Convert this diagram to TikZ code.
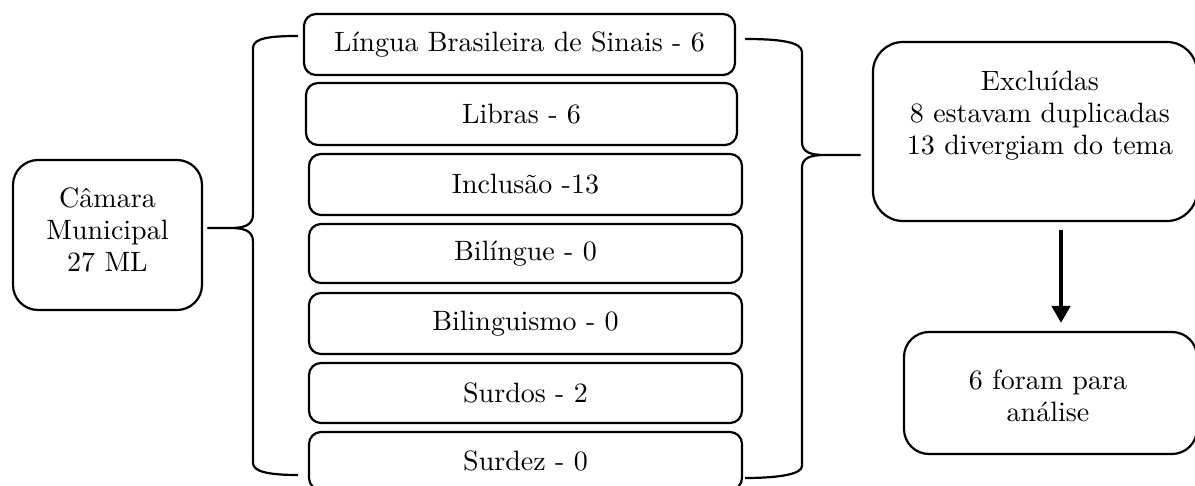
\documentclass[tikz,border=0pt]{standalone}
\usetikzlibrary{arrows.meta}
\font\diagrm="[lmroman10-regular]" at 28pt
\newcommand\diagfont{\diagrm\baselineskip=32pt\relax}
\begin{document}
\begin{tikzpicture}[x=1pt,y=-1pt,
  box/.style={draw, line width=2.2pt, inner sep=0pt, align=center},
  midbox/.style={box, rounded corners=12pt, font=\diagfont},
  txt/.style={inner sep=0pt, align=center, font=\diagfont},
  brace/.style={draw, line width=2.2pt, line join=round},
  arr/.style={line width=4.5pt, -{Triangle[length=17pt,width=18pt]}}]
\useasboundingbox (0,0) rectangle (1195,486);
% left box
\node[box, rounded corners=25pt, minimum width=189pt, minimum height=150pt] (camara) at (107.5,235) {};
\node[txt] (camaratxt) at (107.5,230) {Câmara\\Municipal\\27 ML};
% middle boxes
\node[midbox, minimum width=431pt, minimum height=61pt] (lingua) at (519.5,44.5) {Língua Brasileira de Sinais - 6};
\node[midbox, minimum width=431pt, minimum height=62pt] (libras) at (521.5,114) {Libras - 6};
\node[midbox, minimum width=433pt, minimum height=61pt] (inclusao) at (525.5,184.5) {Inclusão -13};
\node[midbox, minimum width=433pt, minimum height=59pt] (bilingue) at (525.5,253.5) {Bilíngue - 0};
\node[midbox, minimum width=433pt, minimum height=61pt] (bilinguismo) at (525.5,323.5) {Bilinguismo - 0};
\node[midbox, minimum width=433pt, minimum height=60pt] (surdos) at (525.5,393) {Surdos - 2};
\node[midbox, minimum width=433pt, minimum height=58pt] (surdez) at (525.5,461) {Surdez - 0};
% right boxes
\node[box, rounded corners=30pt, minimum width=324pt, minimum height=179pt] (excl) at (1035,131.5) {};
\node[txt] (excltxt) at (1040,116) {Excluídas\\8 estavam duplicadas\\13 divergiam do tema};
\node[box, rounded corners=25pt, minimum width=293pt, minimum height=122pt] (final) at (1050.5,393) {};
\node[txt] (finaltxt) at (1048,396) {6 foram para\\análise};
% left brace
\coordinate (lb1) at (298,36);
\coordinate (lbtip) at (208,228);
\coordinate (lb2) at (298,475);
\draw[brace] (lb1) .. controls (270,36) and (253,38) .. (253,48) -- (253,214)
  .. controls (253,225) and (245,228) .. (230,228) -- (lbtip) -- (230,228)
  .. controls (245,228) and (253,231) .. (253,242) -- (253,463)
  .. controls (253,472) and (270,475) .. (lb2);
% right brace
\coordinate (rb1) at (745,39);
\coordinate (rbtip) at (860,155);
\coordinate (rb2) at (745,478);
\draw[brace] (rb1) .. controls (780,39) and (802,42) .. (802,52) -- (802,142)
  .. controls (802,152) and (810,155) .. (825,155) -- (rbtip) -- (825,155)
  .. controls (810,155) and (802,158) .. (802,168) -- (802,466)
  .. controls (802,474) and (780,478) .. (rb2);
% arrow
\coordinate (a1) at (1061,230);
\coordinate (a2) at (1061,323);
\draw[arr] (a1) -- (a2);
\end{tikzpicture}
\end{document}
